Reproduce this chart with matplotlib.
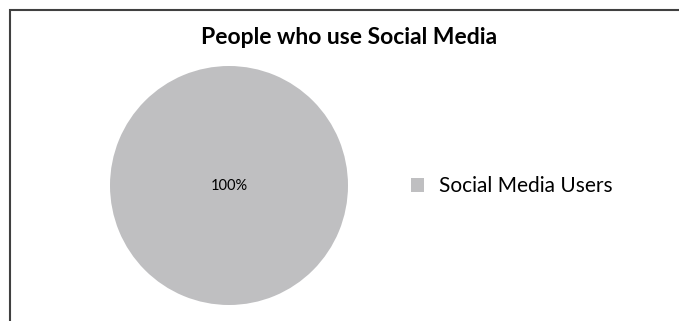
import matplotlib
matplotlib.use("Agg")
import matplotlib.pyplot as plt
from matplotlib.patches import Rectangle, Patch

# chart data
title = "People who use Social Media"
categories = ["Social Media Users"]
values = [100]
colors = ["#bfbfc1"]

W, H = 679, 321
fig = plt.figure(figsize=(W / 100, H / 100), dpi=100)
plt.rcParams['font.family'] = ['Lato', 'DejaVu Sans']

# chart frame (left and top edges visible)
fig.patches.append(Rectangle((9.5 / W, -0.1), 1.2, (H - 9.5) / H + 0.1,
                             transform=fig.transFigure, fill=False,
                             edgecolor="#404040", linewidth=1.5))

# pie area
ax = fig.add_axes([110 / W, (H - 305) / H, 238 / W, 239 / H])
wedges, texts, autotexts = ax.pie(values, colors=colors, startangle=90,
                                  autopct="%1.0f%%", pctdistance=0.0,
                                  radius=1.0, textprops={"fontsize": 10.5})
ax.set_xlim(-1, 1)
ax.set_ylim(-1, 1)
ax.set_aspect("auto")
ax.axis("off")

fig.text(349 / W, 1 - 38 / H, title, ha="center", va="center",
         fontsize=16.5, fontweight="bold")

handles = [Patch(facecolor=c, edgecolor="none") for c in colors]
fig.legend(handles, categories, loc="center left",
           bbox_to_anchor=(411 / W, 1 - 186.5 / H), frameon=False,
           fontsize=15, handlelength=0.62, handleheight=0.62,
           handletextpad=0.72, borderaxespad=0, borderpad=0)

fig.savefig("out.png", dpi=100)
